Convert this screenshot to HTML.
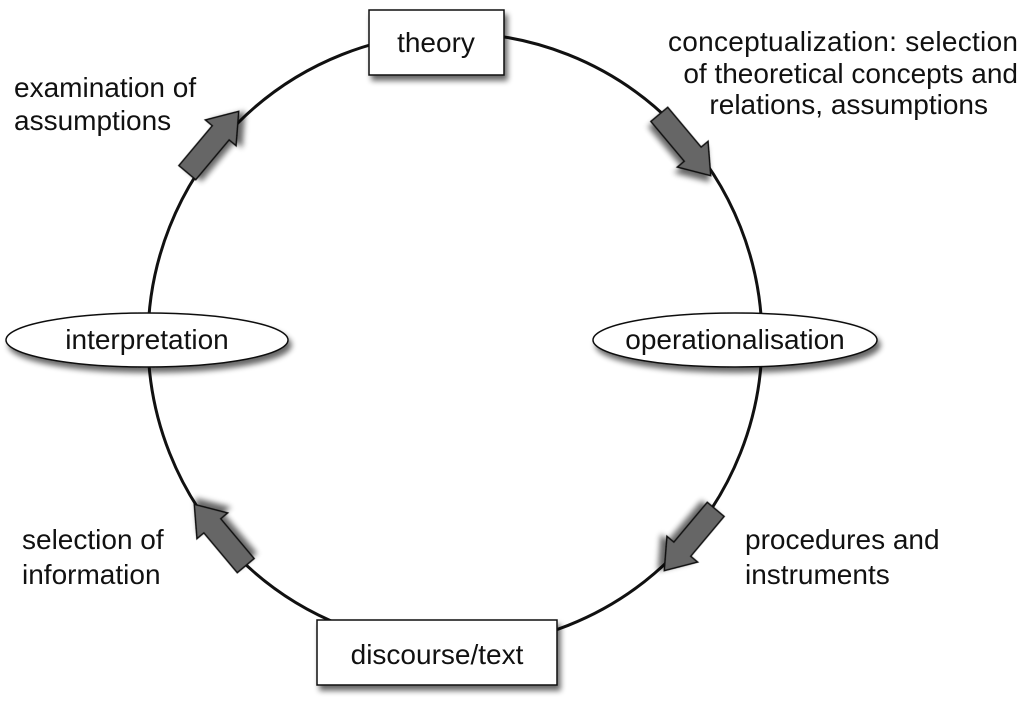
<!DOCTYPE html>
<html><head><meta charset="utf-8"><style>
html,body{margin:0;padding:0;background:#fff;}
svg{display:block;}
text{font-family:"Liberation Sans",Arial,sans-serif;font-size:28px;fill:#111;}
</style></head><body>
<svg width="1024" height="713" viewBox="0 0 1024 713">
<defs>
<filter id="sh" x="-20%" y="-20%" width="150%" height="160%">
<feGaussianBlur in="SourceAlpha" stdDeviation="3"/>
<feOffset dx="3" dy="5" result="o"/>
<feComponentTransfer><feFuncA type="linear" slope="0.6"/></feComponentTransfer>
<feMerge><feMergeNode/><feMergeNode in="SourceGraphic"/></feMerge>
</filter>
<g id="arr"><polygon points="-40,-11 12,-11 12,-20 40,0 12,20 12,11 -40,11" fill="#666" stroke="#111" stroke-width="1.5"/></g>
</defs>
<circle cx="455" cy="340" r="307" fill="none" stroke="#111" stroke-width="3"/>
<use href="#arr" transform="translate(213,142) rotate(-50)" filter="url(#sh)"/>
<use href="#arr" transform="translate(685,145) rotate(50)" filter="url(#sh)"/>
<use href="#arr" transform="translate(690,540) rotate(130)" filter="url(#sh)"/>
<use href="#arr" transform="translate(220,535) rotate(-130)" filter="url(#sh)"/>
<rect x="369" y="10" width="135" height="65" fill="#fff" stroke="#111" stroke-width="1.5" filter="url(#sh)"/>
<text x="436" y="52" text-anchor="middle">theory</text>
<rect x="317" y="620" width="240" height="65" fill="#fff" stroke="#111" stroke-width="1.5" filter="url(#sh)"/>
<text x="437" y="664" text-anchor="middle">discourse/text</text>
<ellipse cx="147" cy="340" rx="141" ry="27" fill="#fff" stroke="#111" stroke-width="1.5" filter="url(#sh)"/>
<text x="147" y="349" text-anchor="middle">interpretation</text>
<ellipse cx="735" cy="340" rx="142" ry="27" fill="#fff" stroke="#111" stroke-width="1.5" filter="url(#sh)"/>
<text x="735" y="349" text-anchor="middle">operationalisation</text>
<text x="14" y="97">examination of</text>
<text x="14" y="130">assumptions</text>
<text x="1018" y="51" text-anchor="end" textLength="350">conceptualization: selection</text>
<text x="1018" y="83" text-anchor="end">of theoretical concepts and</text>
<text x="988" y="114" text-anchor="end">relations, assumptions</text>
<text x="22" y="549">selection of</text>
<text x="22" y="584">information</text>
<text x="745" y="549">procedures and</text>
<text x="745" y="584">instruments</text>
</svg>
</body></html>
